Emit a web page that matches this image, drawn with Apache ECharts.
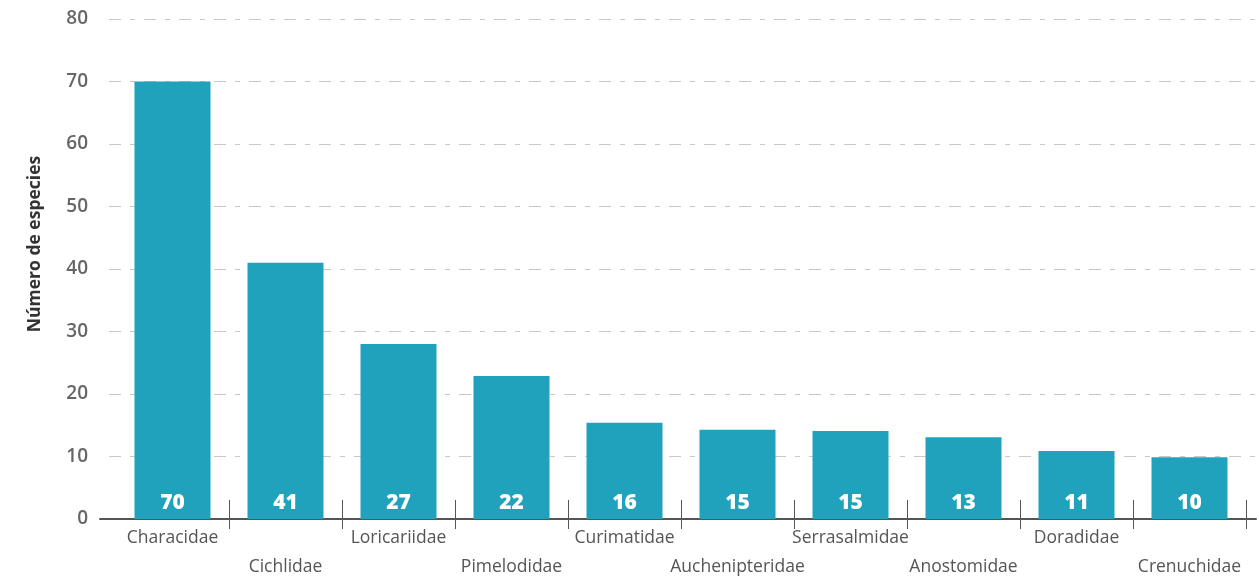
<!DOCTYPE html>
<html>
<head>
<meta charset="utf-8">
<script src="https://cdn.jsdelivr.net/npm/echarts@6/dist/echarts.min.js"></script>
<style>
html,body{margin:0;padding:0;background:#fff;}
#chart{width:1259px;height:580px;}
</style>
</head>
<body>
<div id="chart"></div>
<script>
const categories = ['Characidae','Cichlidae','Loricariidae','Pimelodidae','Curimatidae','Auchenipteridae','Serrasalmidae','Anostomidae','Doradidae','Crenuchidae'];
const barValues = [70, 41, 28, 22.9, 15.4, 14.3, 14.1, 13.1, 10.9, 9.9];
const labelValues = [70, 41, 27, 22, 16, 15, 15, 13, 11, 10];
const yTicks = [0, 10, 20, 30, 40, 50, 60, 70, 80];
const yAxisName = 'Número de especies';

const FONT = '"Open Sans", "Noto Sans", sans-serif';
const chart = echarts.init(document.getElementById('chart'), null, {renderer: 'canvas'});

chart.setOption({
  animation: false,
  backgroundColor: '#ffffff',
  grid: [
    {left: 100, right: 3, top: 19, bottom: 61, outerBoundsMode: 'none', containLabel: false},
    {left: 116, right: 13, top: 19, bottom: 61, outerBoundsMode: 'none', containLabel: false}
  ],
  xAxis: [
    {
      type: 'value', gridIndex: 0, min: 0, max: 1,
      axisLine: {show: true, onZero: false, lineStyle: {color: '#555555', width: 2}},
      axisTick: {show: false}, axisLabel: {show: false}, splitLine: {show: false}
    },
    {
      type: 'category', gridIndex: 1, data: categories, position: 'bottom',
      axisLine: {show: false},
      axisTick: {show: true, inside: true, length: 19, interval: function (i) { return i !== 0; }, lineStyle: {color: '#555555', width: 1}},
      axisLabel: {
        interval: 0, margin: 5, color: '#555555', fontFamily: FONT, fontSize: 17.5, lineHeight: 29,
        formatter: function (v) {
          const i = categories.indexOf(v);
          return i % 2 === 1 ? '\n' + v : v;
        }
      }
    },
    {
      type: 'category', gridIndex: 1, data: categories, position: 'bottom',
      axisLine: {show: false},
      axisTick: {show: true, inside: false, length: 10, interval: function (i) { return i !== 0; }, lineStyle: {color: '#555555', width: 1}},
      axisLabel: {show: false}
    }
  ],
  yAxis: [
    {
      type: 'value', gridIndex: 0, min: yTicks[0], max: yTicks[yTicks.length - 1], interval: 10,
      name: yAxisName, nameLocation: 'middle', nameGap: 56, nameRotate: 90,
      nameTextStyle: {color: '#333333', fontFamily: FONT, fontSize: 17.5, fontWeight: 'bold', padding: [0, 0, 0, 50]},
      axisLine: {show: false}, axisTick: {show: false},
      axisLabel: {color: '#666666', fontFamily: FONT, fontSize: 19, fontWeight: 600, margin: 12},
      splitLine: {show: true, lineStyle: {color: '#c8c8c8', width: 1, type: [12, 9, 5, 9], dashOffset: 26}}
    },
    {
      type: 'value', gridIndex: 1, min: yTicks[0], max: yTicks[yTicks.length - 1], interval: 10, show: false,
      splitLine: {show: false}
    }
  ],
  series: [
    {
      type: 'bar', xAxisIndex: 1, yAxisIndex: 1,
      data: barValues,
      barWidth: 76,
      itemStyle: {color: '#20a1bc'},
      label: {
        show: true, position: 'insideBottom', distance: 5,
        color: '#ffffff', fontFamily: FONT, fontSize: 21, fontWeight: 800,
        formatter: function (p) { return String(labelValues[p.dataIndex]); }
      }
    }
  ]
});
</script>
</body>
</html>
